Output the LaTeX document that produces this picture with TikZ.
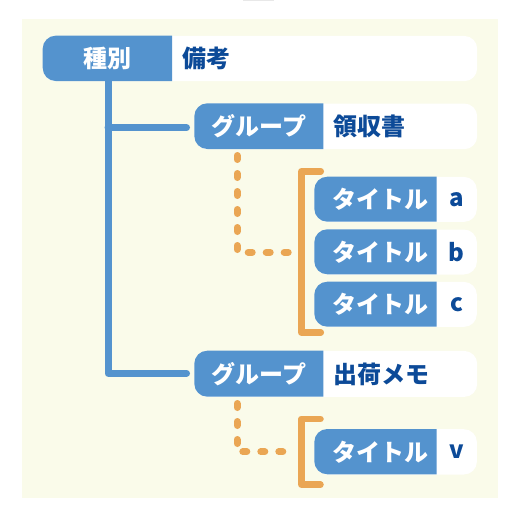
\documentclass[tikz,border=0pt]{standalone}
\usepackage{fontspec}
\setmainfont{Noto Sans CJK JP}
\definecolor{bgc}{HTML}{FAFBEA}
\definecolor{kblue}{HTML}{5493CE}
\definecolor{vblue}{HTML}{0C4A98}
\definecolor{orng}{HTML}{EAA654}
\tikzset{
  rowbox/.style={fill=white, rounded corners=13pt, inner sep=0pt, anchor=north west},
  keyfill/.style={fill=kblue, rounded corners=13pt},
  keytext/.style={text=white, font=\bfseries\fontsize{24}{24}\selectfont, inner sep=0pt},
  valtext/.style={text=vblue, font=\bfseries\fontsize{24}{24}\selectfont, inner sep=0pt},
  treeline/.style={draw=kblue, line width=7pt, line cap=round, line join=round},
  dotline/.style={draw=orng, line width=7pt, line cap=round, dash pattern=on 4pt off 14pt},
  bracketline/.style={draw=orng, line width=6.5pt, line cap=round, line join=round},
}
\newcommand{\mkrow}[6]{% name, x0, y0, xsplit, x1, y1
  \node[rowbox, minimum width={#5-#2}, minimum height={#6-#3}] (#1) at (#2,#3) {};
  \begin{scope}
    \clip (#2-1,#3-1) rectangle (#4,#6+1);
    \fill[keyfill] (#2,#3) rectangle (#5,#6);
  \end{scope}
}
\begin{document}
\begin{tikzpicture}[x=1pt,y=-1pt]
\useasboundingbox (0,0) rectangle (519,519);
\fill[white] (0,0) rectangle (519,519);
\fill[black!9] (243,0) rectangle (274,1.2);
\fill[bgc] (21.5,19.5) rectangle (497.8,498.3);
% rows
\mkrow{r1}{42.7}{35.7}{172}{477}{81}
\node[keytext] (k1) at (107.3,58.8) {種別};
\node[valtext, anchor=west] (v1) at (182,58.8) {備考};
\mkrow{r2}{194.3}{103.3}{323.3}{477}{149}
\node[keytext] (k2) at (259,126.6) {グループ};
\node[valtext, anchor=west] (v2) at (333,126.6) {領収書};
\mkrow{ta}{314.3}{176.7}{436.7}{476.7}{221.7}
\node[keytext] (kta) at (380,199.6) {タイトル};
\node[valtext] (vta) at (456.7,199.6) {a};
\mkrow{tb}{314.3}{229.3}{436.7}{476.7}{274.3}
\node[keytext] (ktb) at (380,252.2) {タイトル};
\node[valtext] (vtb) at (456.7,252.2) {b};
\mkrow{tc}{314.3}{281.7}{436.7}{476.7}{326.7}
\node[keytext] (ktc) at (380,304.6) {タイトル};
\node[valtext] (vtc) at (456.7,304.6) {c};
\mkrow{r3}{194.3}{350.7}{323.3}{477}{396.7}
\node[keytext] (k3) at (259,374) {グループ};
\node[valtext, anchor=west] (v3) at (333,374) {出荷メモ};
\mkrow{tv}{314.3}{429}{436.7}{476.7}{474.3}
\node[keytext] (ktv) at (380,451.9) {タイトル};
\node[valtext] (vtv) at (456.7,451.9) {v};
% tree connectors
\coordinate (t0) at (108,81);
\coordinate (e2) at (186.5,127.7);
\coordinate (e3) at (186.5,373.3);
\draw[treeline] (t0) |- (e3);
\draw[treeline] (t0 |- e2) -- (e2);
% dotted connectors
\coordinate (d1s) at (237,155.5);
\coordinate (d1e) at (288.5,252.3);
\draw[dotline] (d1s) |- (d1e);
\coordinate (d2s) at (237,403.5);
\coordinate (d2e) at (282.8,451.7);
\draw[dotline] (d2s) |- (d2e);
% brackets
\coordinate (b1t) at (320.8,171.3);
\coordinate (b1b) at (320.8,332.5);
\draw[bracketline] (b1t) -- (301.3,171.3) -- (301.3,332.5) -- (b1b);
\coordinate (b2t) at (320.5,419);
\coordinate (b2b) at (320.5,484.7);
\draw[bracketline] (b2t) -- (301.3,419) -- (301.3,484.7) -- (b2b);
\end{tikzpicture}
\end{document}
